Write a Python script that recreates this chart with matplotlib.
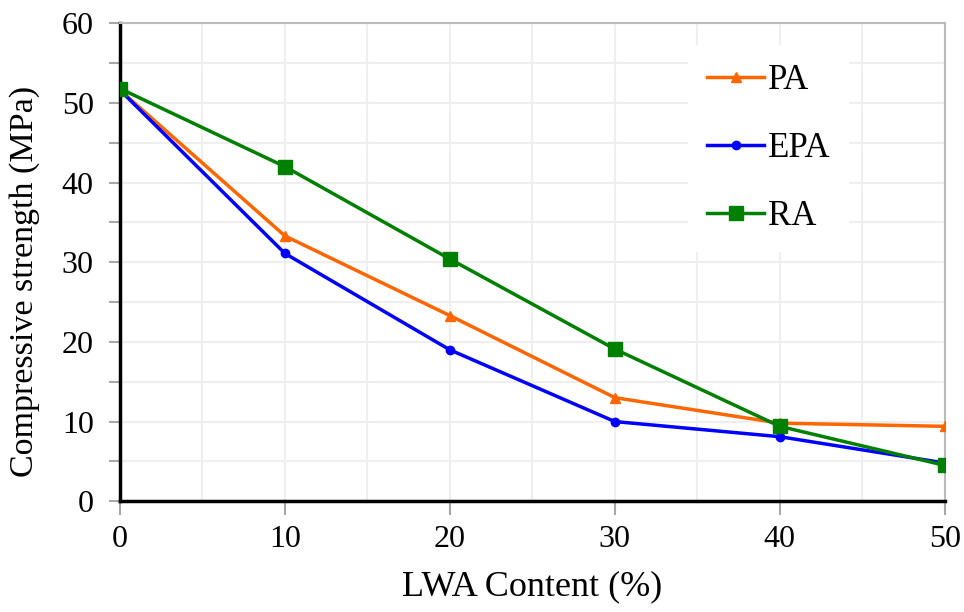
import numpy as np
import matplotlib
matplotlib.use('Agg')
import matplotlib.pyplot as plt
from matplotlib.ticker import MultipleLocator

plt.rcParams['font.family'] = ['Liberation Serif', 'DejaVu Serif']

# LWA replacement level (%) and compressive strength (MPa)
lwaContent = [0, 10, 20, 30, 40, 50]
strengthPA = [51.6, 33.3, 23.3, 13.0, 9.8, 9.4]
strengthEPA = [51.6, 31.1, 19.0, 10.0, 8.1, 4.8]
strengthRA = [51.8, 42.0, 30.4, 19.1, 9.4, 4.5]

fig = plt.figure(figsize=(9.64, 6.12), dpi=100)
ax = fig.add_axes([0.1245, 0.181, 0.8555, 0.781])

ax.plot(lwaContent, strengthPA, color='#FF6600', lw=2.5, marker='^', ms=7, label='PA', zorder=3)
ax.plot(lwaContent, strengthEPA, color='#0000FF', lw=2.5, marker='o', ms=6, label='EPA', zorder=3)
ax.plot(lwaContent, strengthRA, color='#008000', lw=2.5, marker='s', ms=10, label='RA', zorder=4)

ax.set_xlim(0, 50)
ax.set_ylim(0, 60)
ax.xaxis.set_major_locator(MultipleLocator(10))
ax.xaxis.set_minor_locator(MultipleLocator(5))
ax.yaxis.set_major_locator(MultipleLocator(10))
ax.yaxis.set_minor_locator(MultipleLocator(5))
ax.grid(True, which='both', color='#EFEFEF', lw=1.5, zorder=0)
ax.set_axisbelow(True)

ax.tick_params(axis='both', which='both', direction='out', color='#A8A8A8', width=1.5, labelsize=23)
ax.tick_params(axis='x', which='major', length=10, pad=7)
ax.tick_params(axis='x', which='minor', length=0)
ax.tick_params(axis='y', which='both', length=8, pad=11)

for side in ['left', 'bottom']:
    ax.spines[side].set_color('black')
    ax.spines[side].set_linewidth(2.5)
for side in ['top', 'right']:
    ax.spines[side].set_color('#BBBBBB')
    ax.spines[side].set_linewidth(1.5)

ax.set_xlabel('LWA Content (%)', fontsize=26, labelpad=12)
ax.set_ylabel('Compressive strength (MPa)', fontsize=24.5)
ax.yaxis.set_label_coords(-0.097, 0.46)

leg = ax.legend(loc='upper left', bbox_to_anchor=(0.6885, 0.954), frameon=True, fancybox=False,
                edgecolor='white', framealpha=1, fontsize=25, labelspacing=1.0,
                handlelength=1.65, handletextpad=0.1, borderpad=0.55, borderaxespad=0)
leg.get_frame().set_linewidth(0)

fig.savefig('out.png', dpi=100)
